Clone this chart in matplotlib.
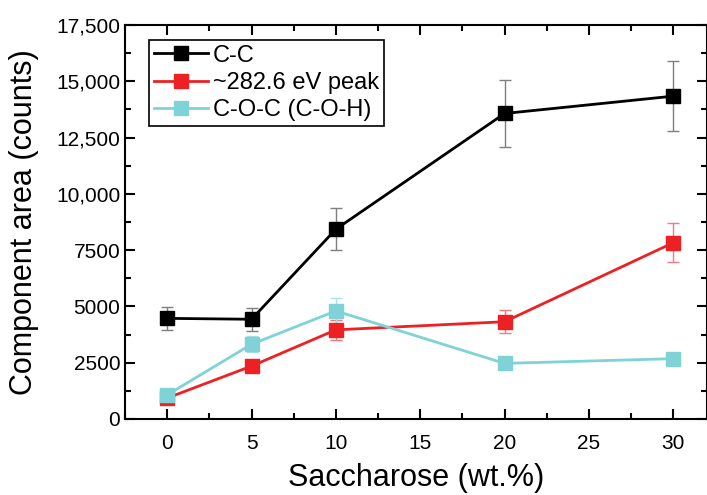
import numpy as np
import matplotlib.pyplot as plt
from matplotlib.lines import Line2D
from matplotlib.ticker import MultipleLocator, FuncFormatter

plt.rcParams['font.family'] = ['Liberation Sans', 'DejaVu Sans']

# datos
sacarosa = [0, 5, 10, 20, 30]
cc = [4470, 4430, 8430, 13570, 14340]
cc_err = [510, 500, 930, 1470, 1550]
pico = [930, 2350, 3960, 4320, 7830]
pico_err = [100, 150, 450, 500, 860]
coc = [1070, 3320, 4800, 2470, 2680]
coc_err = [100, 350, 560, 100, 150]

fig = plt.figure(figsize=(7.07, 4.95), dpi=100)
ax = fig.add_axes([125/707, (495-419)/495, (707-125)/707, (419-25)/495])

series = [
    (cc, cc_err, 'C-C', 'black', '#7f7f7f'),
    (pico, pico_err, '~282.6 eV peak', '#ed2024', '#f47a7c'),
    (coc, coc_err, 'C-O-C (C-O-H)', '#7fd3d7', '#a8e3e6'),
]
handles = []
for y, e, nombre, c, ce in series:
    ax.errorbar(sacarosa, y, yerr=e, color=c, ecolor=ce, elinewidth=1,
                capsize=4.5, capthick=1, lw=2, marker='s', ms=10,
                mec=c, mfc=c)
    handles.append(Line2D([], [], color=c, lw=2, marker='s', ms=9.5,
                          mec=c, mfc=c, label=nombre))

ax.set_xlim(-2.5, 32)
ax.set_ylim(0, 17500)
ax.xaxis.set_major_locator(MultipleLocator(5))
ax.xaxis.set_minor_locator(MultipleLocator(2.5))
ax.yaxis.set_major_locator(MultipleLocator(2500))
ax.yaxis.set_minor_locator(MultipleLocator(1250))

def fmt(v, pos):
    v = int(round(v))
    if v >= 10000:
        return f'{v:,}'
    return str(v)

ax.yaxis.set_major_formatter(FuncFormatter(fmt))
ax.tick_params(which='both', direction='in', top=True, right=True, width=1.5,
               labelsize=15)
ax.tick_params(which='major', length=7)
ax.tick_params(which='minor', length=4)
ax.tick_params(axis='x', pad=11)
for s in ax.spines.values():
    s.set_linewidth(1.5)

ax.set_xlabel('Saccharose (wt.%)', fontsize=22, labelpad=7)
ax.set_ylabel('Component area (counts)', fontsize=22, labelpad=12)

leg = ax.legend(handles=handles, loc='upper left',
                bbox_to_anchor=(24/582, 1 - 15/394), borderaxespad=0,
                fontsize=17, fancybox=False, edgecolor='black',
                framealpha=1, handlelength=2.3, handletextpad=0.2,
                borderpad=0.2, labelspacing=0.22)
leg.get_frame().set_linewidth(1.2)

plt.savefig('out.png', dpi=100)
